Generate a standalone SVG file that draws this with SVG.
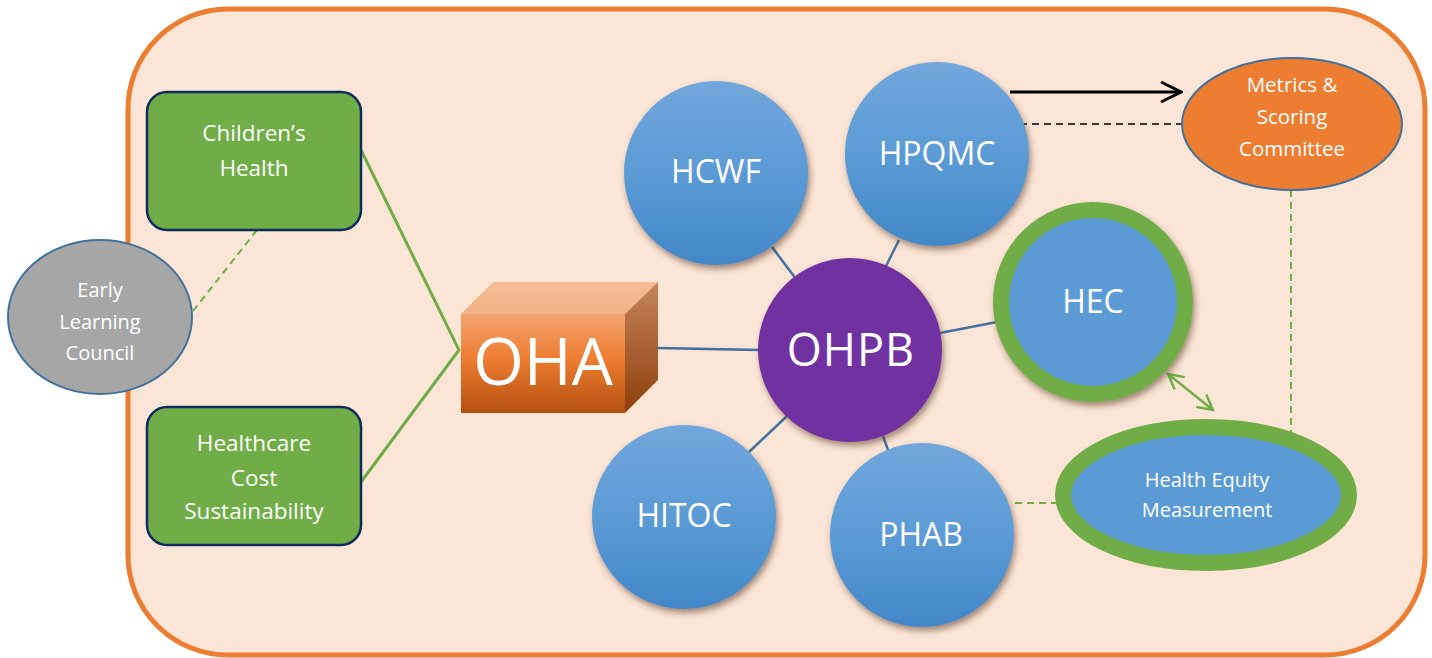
<svg xmlns="http://www.w3.org/2000/svg" width="1432" height="658" viewBox="0 0 1432 658">
<defs>
<linearGradient id="gBlue" x1="0" y1="0" x2="0" y2="1">
<stop offset="0" stop-color="#71A7DC"/>
<stop offset="0.5" stop-color="#5B9BD5"/>
<stop offset="1" stop-color="#4287C8"/>
</linearGradient>
<linearGradient id="gFront" x1="0" y1="0" x2="0" y2="1">
<stop offset="0" stop-color="#F3A470"/>
<stop offset="0.45" stop-color="#ED7D31"/>
<stop offset="1" stop-color="#B4500F"/>
</linearGradient>
<linearGradient id="gTop" x1="0" y1="0" x2="0" y2="1">
<stop offset="0" stop-color="#F5BE98"/>
<stop offset="1" stop-color="#F2B083"/>
</linearGradient>
<linearGradient id="gSide" x1="0" y1="0" x2="0" y2="1">
<stop offset="0" stop-color="#C4845A"/>
<stop offset="1" stop-color="#8F3F0C"/>
</linearGradient>
<filter id="sh" x="-20%" y="-20%" width="140%" height="140%">
<feDropShadow dx="2" dy="4" stdDeviation="3" flood-color="#5A3A28" flood-opacity="0.55"/>
</filter>
<marker id="arrBlack" viewBox="0 0 24 24" markerWidth="24" markerHeight="24" refX="22" refY="12" orient="auto" markerUnits="userSpaceOnUse">
<path d="M2,2 L22,12 L2,22" fill="none" stroke="#000" stroke-width="3"/>
</marker>
<marker id="arrGreen" viewBox="0 0 20 20" markerWidth="20" markerHeight="20" refX="18" refY="10" orient="auto-start-reverse" markerUnits="userSpaceOnUse">
<path d="M3,2 L18,10 L3,18" fill="none" stroke="#70AD47" stroke-width="2.5"/>
</marker>
<style>
.txt{font-family:"Open Sans","Liberation Sans",sans-serif;fill:#fff;text-anchor:middle}
.box{fill:#70AD47;stroke:#0E2A5E;stroke-width:2.5}
.blue{fill:url(#gBlue);filter:url(#sh)}
.conn{stroke:#41719C;stroke-width:2.5;fill:none}
.gdash{stroke:#70AD47;stroke-width:2;stroke-dasharray:7,5;fill:none}
</style>
</defs>
<rect id="container" x="128" y="9" width="1297" height="646" rx="100" ry="100" fill="#FBE5D6" stroke="#ED7D31" stroke-width="5"/>

<g id="connectors">
<polyline points="361,150 459,350 361,482" fill="none" stroke="#70AD47" stroke-width="3"/>
<line class="gdash" x1="193" y1="311" x2="257" y2="230"/>
<line class="conn" x1="658" y1="348" x2="760" y2="350"/>
<line class="conn" x1="772" y1="247" x2="796" y2="279"/>
<line class="conn" x1="899" y1="240" x2="886" y2="266"/>
<line class="conn" x1="940" y1="333" x2="997" y2="322"/>
<line class="conn" x1="749" y1="452" x2="787" y2="416"/>
<line class="conn" x1="883" y1="436" x2="888" y2="450"/>
<line x1="1010" y1="92" x2="1181" y2="92" stroke="#000" stroke-width="3" marker-end="url(#arrBlack)"/>
<line x1="1020" y1="124" x2="1182" y2="124" stroke="#000" stroke-width="1.5" stroke-dasharray="7,5"/>
<line class="gdash" x1="1291" y1="190" x2="1291" y2="432"/>
<line class="gdash" x1="1015" y1="503" x2="1057" y2="503"/>
<line x1="1168" y1="374" x2="1213" y2="410" stroke="#70AD47" stroke-width="2.5" marker-start="url(#arrGreen)" marker-end="url(#arrGreen)"/>
</g>

<g id="children-health">
<rect class="box" x="147" y="92" width="214" height="138" rx="20" ry="20"/>
<text class="txt" font-size="22.5" x="254" y="141">Children’s</text>
<text class="txt" font-size="22.5" x="254" y="176">Health</text>
</g>

<g id="healthcare-cost">
<rect class="box" x="147" y="407" width="214" height="138" rx="20" ry="20"/>
<text class="txt" font-size="22.5" x="254" y="451">Healthcare</text>
<text class="txt" font-size="22.5" x="254" y="486">Cost</text>
<text class="txt" font-size="22.5" x="254" y="519">Sustainability</text>
</g>

<g id="early-learning">
<ellipse cx="100" cy="317" rx="92" ry="77" fill="#A6A6A6" stroke="#41719C" stroke-width="2"/>
<text class="txt" font-size="20" x="100" y="297">Early</text>
<text class="txt" font-size="20" x="100" y="329">Learning</text>
<text class="txt" font-size="20" x="100" y="360">Council</text>
</g>

<g id="oha">
<polygon points="461,314 493,282 658,282 625,314" fill="url(#gTop)"/>
<polygon points="625,314 658,282 658,380 625,413" fill="url(#gSide)"/>
<rect x="461" y="314" width="164" height="99" fill="url(#gFront)"/>
<text class="txt" font-size="65" x="543" y="385">OHA</text>
</g>

<g id="ohpb">
<circle cx="850" cy="350" r="92" fill="#7030A0" filter="url(#sh)"/>
<text class="txt" font-size="45" x="851" y="366" letter-spacing="1">OHPB</text>
</g>

<g id="hcwf">
<circle class="blue" cx="716" cy="173" r="92"/>
<text class="txt" font-size="32" x="716" y="183">HCWF</text>
</g>

<g id="hpqmc">
<circle class="blue" cx="937" cy="154" r="92"/>
<text class="txt" font-size="32" x="937" y="165">HPQMC</text>
</g>

<g id="hec">
<circle cx="1093" cy="302" r="92" fill="#5B9BD5" stroke="#70AD47" stroke-width="16" filter="url(#sh)"/>
<text class="txt" font-size="32" x="1093" y="313">HEC</text>
</g>

<g id="hitoc">
<circle class="blue" cx="684" cy="517" r="92"/>
<text class="txt" font-size="32" x="684" y="527">HITOC</text>
</g>

<g id="phab">
<circle class="blue" cx="922" cy="535" r="92"/>
<text class="txt" font-size="32" x="921" y="546">PHAB</text>
</g>

<g id="metrics">
<ellipse cx="1292" cy="124" rx="110" ry="66" fill="#ED7D31" stroke="#41719C" stroke-width="2"/>
<text class="txt" font-size="20.5" x="1292" y="92">Metrics &amp;</text>
<text class="txt" font-size="20.5" x="1292" y="124">Scoring</text>
<text class="txt" font-size="20.5" x="1292" y="156">Committee</text>
</g>

<g id="health-equity">
<ellipse cx="1206" cy="495" rx="143" ry="68" fill="#5B9BD5" stroke="#70AD47" stroke-width="16"/>
<text class="txt" font-size="20" x="1207" y="487">Health Equity</text>
<text class="txt" font-size="20" x="1207" y="517">Measurement</text>
</g>
</svg>
